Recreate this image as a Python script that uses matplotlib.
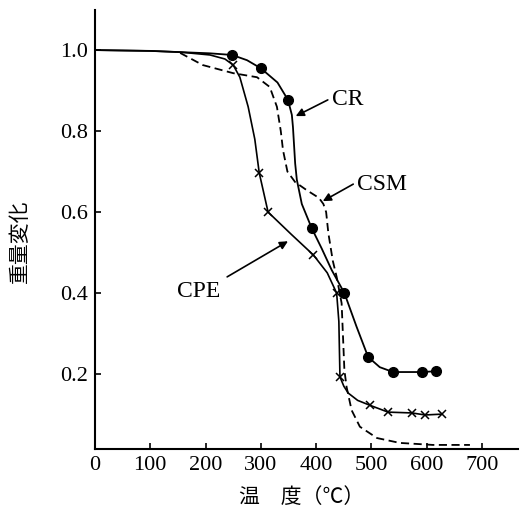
import matplotlib.pyplot as plt

# temperature (deg C) / weight fraction
cr_line_t = [0, 100, 154, 208, 248, 275, 300, 330, 349, 356, 358, 362, 365, 374, 392, 410, 428, 451, 473, 494, 515, 539, 591, 617]
cr_line_w = [1.0, 0.998, 0.995, 0.992, 0.988, 0.975, 0.955, 0.92, 0.877, 0.84, 0.81, 0.72, 0.68, 0.62, 0.56, 0.51, 0.457, 0.40, 0.317, 0.242, 0.217, 0.205, 0.205, 0.207]
cr_mark_t = [248, 300, 349, 392, 451, 494, 539, 591, 617]
cr_mark_w = [0.988, 0.955, 0.877, 0.56, 0.40, 0.242, 0.205, 0.205, 0.207]

cpe_line_t = [0, 100, 154, 208, 235, 250, 262, 277, 289, 297, 313, 355, 395, 420, 437, 441, 443, 450, 458, 475, 497, 530, 573, 597, 627]
cpe_line_w = [1.0, 0.998, 0.995, 0.988, 0.978, 0.963, 0.933, 0.86, 0.78, 0.697, 0.60, 0.545, 0.494, 0.45, 0.40, 0.33, 0.193, 0.17, 0.153, 0.135, 0.123, 0.106, 0.104, 0.099, 0.101]
cpe_mark_t = [250, 297, 313, 395, 437, 443, 497, 530, 573, 597, 627]
cpe_mark_w = [0.963, 0.697, 0.60, 0.494, 0.40, 0.193, 0.123, 0.106, 0.104, 0.099, 0.101]

csm_line_t = [154, 195, 250, 293, 316, 329, 336, 340, 348, 362, 383, 405, 413, 418, 422, 430, 437, 446, 451, 455, 464, 479, 510, 551, 611, 678]
csm_line_w = [0.993, 0.963, 0.943, 0.933, 0.909, 0.86, 0.80, 0.753, 0.70, 0.674, 0.654, 0.635, 0.62, 0.60, 0.548, 0.48, 0.44, 0.375, 0.21, 0.168, 0.111, 0.07, 0.042, 0.03, 0.025, 0.025]

x_ticks = [0, 100, 200, 300, 400, 500, 600, 700]
y_ticks = [0.2, 0.4, 0.6, 0.8, 1.0]

serif = 'Liberation Serif'
cjk = ['Noto Sans CJK JP', 'DejaVu Sans']

fig = plt.figure(figsize=(5.21, 5.13), dpi=100)
ax = fig.add_axes([0.1823, 0.1248, 0.812, 0.8557])

ax.plot(cr_line_t, cr_line_w, color='black', lw=1.3)
ax.plot(cr_mark_t, cr_mark_w, 'o', color='black', ms=7)
ax.plot(cpe_line_t, cpe_line_w, color='black', lw=1.2)
ax.plot(cpe_mark_t, cpe_mark_w, 'x', color='black', ms=6, mew=1.1)
ax.plot(csm_line_t, csm_line_w, color='black', lw=1.3, dashes=(4.5, 2.5))

# labels with arrows
arrow = dict(arrowstyle='-|>', color='black', lw=1.2, mutation_scale=12, shrinkA=0, shrinkB=0)
ax.annotate('', xy=(363, 0.837), xytext=(421, 0.877), arrowprops=arrow)
ax.text(428, 0.879, 'CR', fontsize=17, family=serif, va='center', ha='left')
ax.annotate('', xy=(412, 0.627), xytext=(467, 0.669), arrowprops=arrow)
ax.text(473, 0.669, 'CSM', fontsize=17, family=serif, va='center', ha='left')
ax.annotate('', xy=(349, 0.528), xytext=(239, 0.44), arrowprops=arrow)
ax.text(188, 0.405, 'CPE', fontsize=17, family=serif, va='center', ha='center')

ax.set_xlim(0, 765)
ax.set_ylim(0.015, 1.099)
ax.set_xticks(x_ticks)
ax.set_yticks(y_ticks)
ax.set_yticklabels(['%.1f' % v for v in y_ticks])
ax.tick_params(direction='in', length=4, width=1.2, labelsize=16, pad=5)
for lab in ax.get_xticklabels() + ax.get_yticklabels():
    lab.set_family(serif)

for s in ['top', 'right']:
    ax.spines[s].set_visible(False)
for s in ['left', 'bottom']:
    ax.spines[s].set_linewidth(1.5)

fig.text(0.038, 0.53, '重量変化', rotation=90, fontsize=15, family=cjk, ha='center', va='center')
fig.text(0.578, 0.031, '温　度（℃）', fontsize=15, family=cjk, ha='center', va='center')

plt.savefig('out.png', dpi=100)
